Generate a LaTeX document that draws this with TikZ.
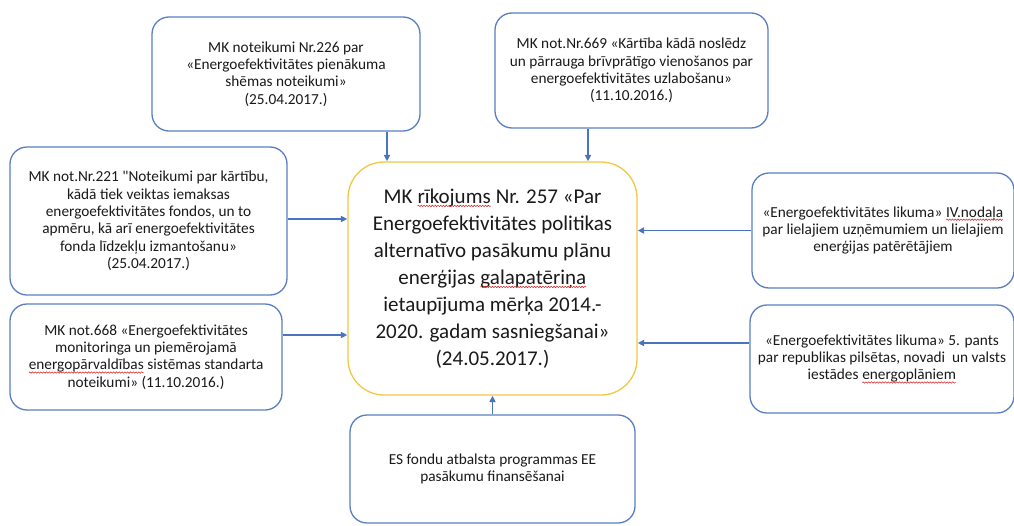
\documentclass[tikz,border=0pt]{standalone}
\usepackage{fontspec}
\setmainfont{Carlito}
% same family without the TeX character mapping, for a straight double quote
\newfontfamily\plainq{Carlito}
\usetikzlibrary{arrows.meta,decorations.pathmorphing}

\definecolor{boxblue}{HTML}{5A7EC2}
\definecolor{arrowblue}{HTML}{4A74C0}
\definecolor{gold}{HTML}{F2C744}
\definecolor{inktext}{HTML}{1A1A1A}
\definecolor{spellred}{HTML}{D42A2A}

% red wavy underline under a single word
\newcommand\sq[1]{\tikz[baseline=(w.base)]{%
  \node[inner sep=0pt,outer sep=0pt,draw=none,fill=none,text width=,
        minimum width=0pt,minimum height=0pt,rounded corners=0pt](w){#1};
  \draw[spellred,line width=0.55pt,rounded corners=0pt,decorate,
        decoration={snake,amplitude=0.7pt,segment length=2.8pt}]
    ([yshift=-2.6pt]w.base west) -- ([yshift=-2.6pt]w.base east);}}

\tikzset{
  srcbox/.style={draw=boxblue,line width=1.3pt,rounded corners=17pt,
    align=center,text=inktext,inner sep=4pt,
    font=\fontsize{15.3}{17.4}\selectfont},
  mainbox/.style={draw=gold,line width=1.3pt,rounded corners=36pt,
    align=center,text=inktext,inner sep=4pt,
    font=\fontsize{21}{27}\selectfont},
  arr/.style={draw=arrowblue,line width=1.6pt,
    -{Triangle[length=6.5pt,width=6pt]}}
}

\begin{document}
\begin{tikzpicture}[x=1pt,y=-1pt]
\useasboundingbox[fill=white] (0,0) rectangle (1014,525);

% central decree
\node[mainbox,minimum width=289pt,minimum height=233pt] (M) at (492.5,278.5)
  {MK \sq{rīkojums} Nr. 257 «Par\\
   Energoefektivitātes politikas\\
   alternatīvo pasākumu plānu\\
   enerģijas \sq{galapatēriņa}\\
   ietaupījuma mērķa 2014.-\\
   2020. gadam sasniegšanai»\\
   (24.05.2017.)};

% sources feeding the decree
\node[srcbox,minimum width=268pt,minimum height=114pt] (A) at (286,74)
  {MK noteikumi Nr.226 par\\
   «Energoefektivitātes pienākuma\\
   shēmas noteikumi»\\
   (25.04.2017.)};

\node[srcbox,minimum width=273pt,minimum height=115pt] (B) at (631.5,70.5)
  {MK not.Nr.669 «Kārtība kādā noslēdz\\
   un pārrauga brīvprātīgo vienošanos par\\
   energoefektivitātes uzlabošanu»\\
   (11.10.2016.)};

\node[srcbox,minimum width=277pt,minimum height=148pt] (C) at (148.5,221)
  {MK not.Nr.221 {\plainq"}Noteikumi par kārtību,\\
   kādā tiek veiktas iemaksas\\
   energoefektivitātes fondos, un to\\
   apmēru, kā arī energoefektivitātes\\
   fonda līdzekļu izmantošanu»\\
   (25.04.2017.)};

\node[srcbox,minimum width=272pt,minimum height=106pt] (D) at (146,357)
  {MK not.668 «Energoefektivitātes\\
   monitoringa un piemērojamā\\
   \sq{energopārvaldības} sistēmas standarta\\
   noteikumi» (11.10.2016.)};

\node[srcbox,minimum width=262pt,minimum height=115pt] (E) at (883,230.5)
  {«Energoefektivitātes likuma» \sq{IV.nodaļa}\\
   par lielajiem uzņēmumiem un lielajiem\\
   enerģijas patērētājiem};

\node[srcbox,minimum width=264pt,minimum height=108pt] (F) at (882,359)
  {«Energoefektivitātes likuma» 5. pants\\
   par republikas pilsētas, novadi\ \ un valsts\\
   iestādes \sq{energoplāniem}};

\node[srcbox,minimum width=285pt,minimum height=108pt] (G) at (492.5,469)
  {ES fondu atbalsta programmas EE\\
   pasākumu finansēšanai};

% connectors into the decree
\draw[arr] ([xshift=101pt]A.south) coordinate (ta) -- (ta |- M.north);
\draw[arr] ([xshift=-43.5pt]B.south) coordinate (tb) -- (tb |- M.north);
\draw[arr] ([yshift=2pt]C.east) coordinate (tc) -- (tc -| M.west);
\draw[arr] ([yshift=22pt]D.east) coordinate (td) -- (td -| M.west);
\draw[arr] (E.west) coordinate (te) -- (te -| M.east);
\draw[arr] ([yshift=16pt]F.west) coordinate (tf) -- (tf -| M.east);
\draw[arr] (G.north) -- (M.south);
\end{tikzpicture}
\end{document}
